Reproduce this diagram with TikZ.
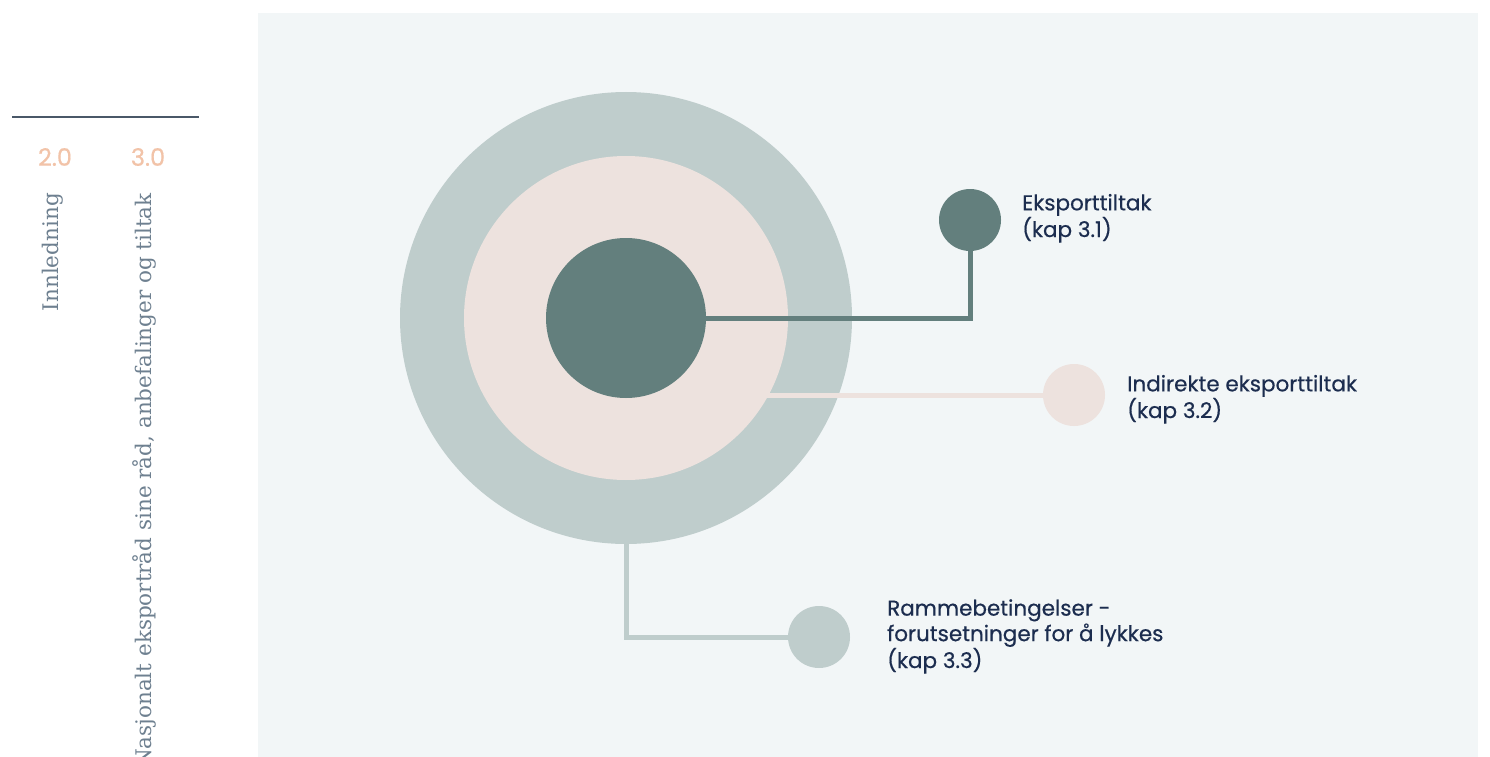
\documentclass[tikz,border=0pt]{standalone}
\usepackage{fontspec}
\setmainfont{Poppins}
\newfontfamily\popm{Poppins}[FakeBold=0.5]
\newfontfamily\vser{DejaVu Serif}
\definecolor{bgpanel}{HTML}{F2F6F7}
\definecolor{darkteal}{HTML}{637F7D}
\definecolor{greygreen}{HTML}{BFCDCC}
\definecolor{softpink}{HTML}{EDE2DE}
\definecolor{navy}{HTML}{1C2D4F}
\definecolor{peach}{HTML}{F2C3A8}
\definecolor{sidegrey}{HTML}{6E8090}
\definecolor{ruleline}{HTML}{4A5868}
\tikzset{
  disc/.style={circle, inner sep=0pt, draw=none},
  conn/.style={line width=5pt},
  lbl/.style={anchor=base west, inner sep=0pt, align=left, text=navy, font=\popm\fontsize{21.5}{25.5}\selectfont},
  secnum/.style={inner sep=0pt, text=peach, font=\popm\fontsize{24}{28}\selectfont},
  sidetxt/.style={inner sep=0pt, rotate=90, anchor=south east, text=sidegrey, font=\vser\fontsize{21.5}{25}\selectfont}
}
\begin{document}
\begin{tikzpicture}[x=1pt,y=-1pt]
\useasboundingbox (0,0) rectangle (1490,757);
\fill[white] (0,0) rectangle (1490,757);
\fill[bgpanel] (258,13) rectangle (1478,757);
% sidebar
\coordinate (rl) at (12,117);
\coordinate (rr) at (199,117);
\draw[ruleline, line width=1.2pt] (rl) -- (rr);
\node[secnum] (n2) at (55,157) {2.0};
\node[secnum] (n3) at (148,157) {3.0};
\node[sidetxt] (s2) at (63,193) {Innledning};
\node[sidetxt] (s3) at (156,193) {Nasjonalt eksportråd sine råd, anbefalinger og tiltak};
% circles
\node[disc, fill=greygreen, minimum size=452pt] (big) at (626,318) {};
\node[disc, fill=softpink, minimum size=62pt] (c2) at (1074,395) {};
\draw[conn, softpink] (big.center |- c2) -- (c2);
\node[disc, fill=softpink, minimum size=324pt] (mid) at (626,318) {};
\node[disc, fill=darkteal, minimum size=160pt] (inner) at (626,318) {};
\node[disc, fill=darkteal, minimum size=62pt] (c1) at (970,220) {};
\node[disc, fill=greygreen, minimum size=62pt] (c3) at (819,637) {};
\draw[conn, darkteal] (inner.east) -| (c1.south);
\draw[conn, greygreen] (big.south) |- (c3.west);
% labels (anchored at the baseline of the last line)
\node[lbl] (t1) at (1022,237) {Eksporttiltak\\(kap 3.1)};
\node[lbl] (t2) at (1127,418) {Indirekte eksporttiltak\\(kap 3.2)};
\node[lbl] (t3) at (887,668) {Rammebetingelser -\\forutsetninger for å lykkes\\(kap 3.3)};
\end{tikzpicture}
\end{document}
